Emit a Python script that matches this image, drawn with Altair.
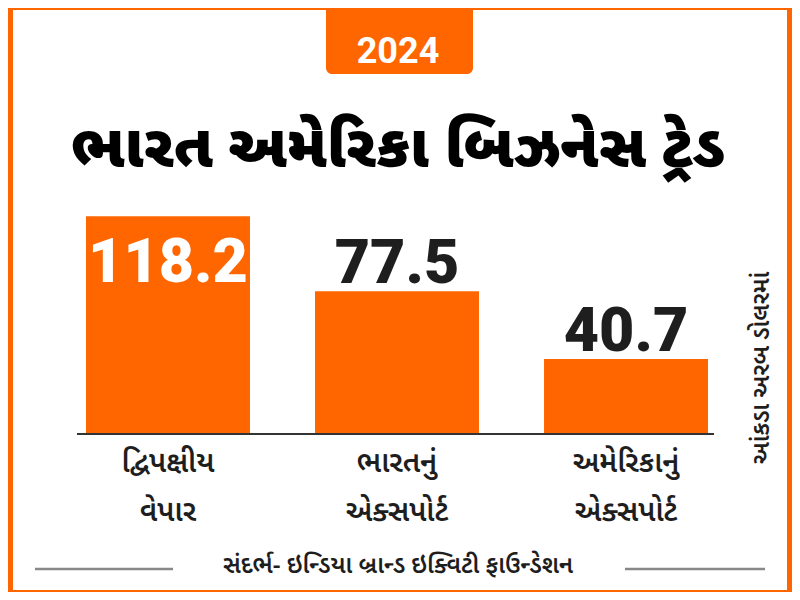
import altair as alt
import pandas as pd

# ---- data ----
categories = ["bilateral", "india_export", "us_export"]
label_line1 = ["દ્વિપક્ષીય", "ભારતનું", "અમેરિકાનું"]
label_line2 = ["વેપાર", "એક્સપોર્ટ", "એક્સપોર્ટ"]
values = [118.2, 77.5, 40.7]
value_labels = ["118.2", "77.5", "40.7"]

year_text = "2024"
title_text = "ભારત અમેરિકા બિઝનેસ ટ્રેડ"
unit_text = "આંકડા અરબ ડોલરમાં"
source_text = "સંદર્ભ- ઇન્ડિયા બ્રાન્ડ ઇક્વિટી ફાઉન્ડેશન"

ORANGE = "#FF6600"
DARK = "#1e1e1e"
GUJ_FONT = "Noto Sans Gujarati, Noto Sans, sans-serif"
NUM_FONT = "Roboto"

W, H = 784, 584

df = pd.DataFrame({
    "cat": categories,
    "line1": label_line1,
    "line2": label_line2,
    "value": values,
    "vlabel": value_labels,
})
one = pd.DataFrame({"k": [0]})

x_enc = alt.X("cat:N", sort=categories, axis=None,
              scale=alt.Scale(domain=categories, range=[78, 700],
                              paddingInner=0.284, paddingOuter=0))
y_scale = alt.Scale(domain=[-85.73, 231.14], zero=False, nice=False)

inner = alt.Chart(one).mark_rect(color="white").encode(
    x=alt.value(5), x2=alt.value(779), y=alt.value(2), y2=alt.value(582))

tab = alt.Chart(one).mark_rect(color=ORANGE, cornerRadiusBottomLeft=6,
                               cornerRadiusBottomRight=6).encode(
    x=alt.value(318), x2=alt.value(465), y=alt.value(0), y2=alt.value(66))

year = alt.Chart(one).mark_text(text=year_text, font=NUM_FONT, fontSize=36,
                                fontWeight="bold", color="white",
                                baseline="alphabetic").encode(
    x=alt.value(390), y=alt.value(55))

title = alt.Chart(one).mark_text(text=title_text, font=GUJ_FONT, fontSize=60,
                                 fontWeight=900, color="black",
                                 baseline="middle").encode(
    x=alt.value(390), y=alt.value(141))

bars = alt.Chart(df).mark_bar(color=ORANGE).encode(
    x=x_enc,
    y=alt.Y("value:Q", scale=y_scale, axis=None),
    y2=alt.datum(0),
)

inside_lbl = alt.Chart(df).transform_filter("datum.value > 100").mark_text(
    font=NUM_FONT, fontSize=61, fontWeight=900, color="white",
    baseline="alphabetic", dy=66).encode(
    x=x_enc, y=alt.Y("value:Q", scale=y_scale, axis=None), text="vlabel:N")

above_lbl = alt.Chart(df).transform_filter("datum.value <= 100").mark_text(
    font=NUM_FONT, fontSize=61, fontWeight=900, color=DARK,
    baseline="alphabetic", dy=-8).encode(
    x=x_enc, y=alt.Y("value:Q", scale=y_scale, axis=None), text="vlabel:N")

baseline = alt.Chart(one).mark_rule(color="#333333", strokeWidth=2).encode(
    x=alt.value(69), x2=alt.value(706), y=alt.datum(0))

cat1 = alt.Chart(df).mark_text(font=GUJ_FONT, fontSize=29, fontWeight=600,
                               color=DARK, baseline="middle").encode(
    x=x_enc, y=alt.value(455), text="line1:N")
cat2 = alt.Chart(df).mark_text(font=GUJ_FONT, fontSize=29, fontWeight=600,
                               color=DARK, baseline="middle").encode(
    x=x_enc, y=alt.value(504), text="line2:N")

unit = alt.Chart(one).mark_text(text=unit_text, font=GUJ_FONT, fontSize=24,
                                fontWeight=600, color=DARK, angle=270,
                                baseline="middle").encode(
    x=alt.value(754), y=alt.value(360))

source = alt.Chart(one).mark_text(text=source_text, font=GUJ_FONT, fontSize=24,
                                  fontWeight=600, color=DARK,
                                  baseline="middle").encode(
    x=alt.value(390), y=alt.value(558))

line_l = alt.Chart(one).mark_rule(color="#888888", strokeWidth=2.5).encode(
    x=alt.value(27), x2=alt.value(165), y=alt.value(561))
line_r = alt.Chart(one).mark_rule(color="#888888", strokeWidth=2.5).encode(
    x=alt.value(617), x2=alt.value(757), y=alt.value(561))

chart = alt.layer(
    inner, tab, year, title, bars, inside_lbl, above_lbl, baseline,
    cat1, cat2, unit, source, line_l, line_r
).properties(
    width=W, height=H, background=ORANGE, padding=0,
    autosize=alt.AutoSizeParams(type="none"),
).configure_view(stroke=None)

chart.save("out.html", embed_options={"renderer": "svg", "actions": False})
